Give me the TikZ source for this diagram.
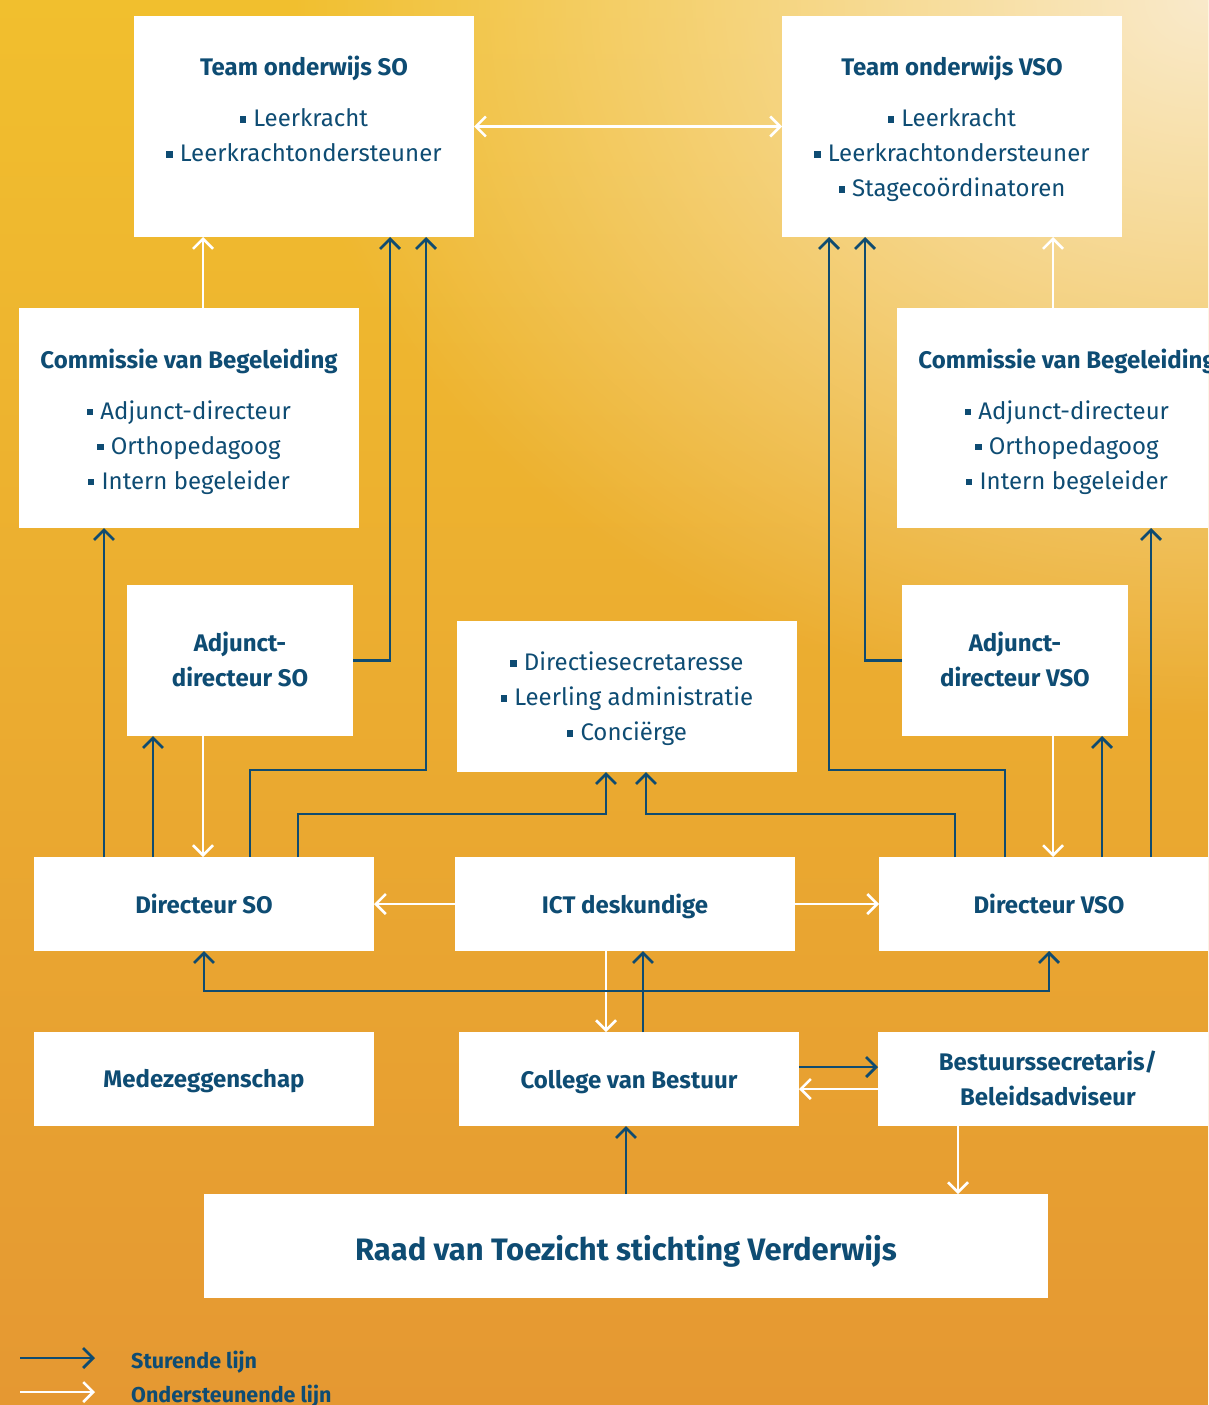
\documentclass[tikz,border=0pt]{standalone}
\usepackage{fontspec}
\setmainfont{Fira Sans}
\usetikzlibrary{arrows.meta,fadings}
\definecolor{tc}{HTML}{0E4C73}
\definecolor{lc}{HTML}{0F4B70}
\definecolor{bgA}{HTML}{F1BF2E}
\definecolor{bgB}{HTML}{E59832}
\definecolor{glow}{HTML}{FAEACB}
\tikzfading[name=glowfade, inner color=transparent!0, outer color=transparent!100]
\newcommand\sqb{\rule[0.17em]{0.26em}{0.26em}\hspace{0.3em}}
\newcommand\tp[1]{\rule{0pt}{#1pt}}
\newcommand\bt[1]{\rule[-#1pt]{0pt}{#1pt}}
\begin{document}
\begin{tikzpicture}[x=1pt,y=-1pt,
  >={Straight Barb[length=10pt,width=20pt]},
  box/.style={fill=white, draw=none, inner sep=0pt, outer sep=0pt, align=center, text=tc, font=\fontsize{24}{35}\selectfont},
  bbox/.style={box, font=\fontsize{24}{35}\selectfont\bfseries},
  hd/.style 2 args={execute at begin node={\rule{0pt}{#1pt}}, execute at end node={\rule[-#2pt]{0pt}{#2pt}}},
  dline/.style={draw=lc, line width=2.7pt, ->},
  wline/.style={draw=white, line width=2.5pt, ->},
  lgd/.style={anchor=base west, text=tc, inner sep=0pt, font=\fontsize{21.5}{25}\selectfont\bfseries}]
\useasboundingbox (0,0) rectangle (1208,1405);
\clip (0,0) rectangle (1208,1405);
% background
\shade[top color=bgA, bottom color=bgB] (0,0) rectangle (1208,1405);
\fill[glow, path fading=glowfade] (1208,0) ellipse (920 and 720);

% boxes
\node[box, minimum width=340pt, minimum height=221pt] (tso) at (304,126.5)
  {\tp{20}{\bfseries Team onderwijs SO}\\[16.7pt]\sqb Leerkracht\\ \sqb Leerkrachtondersteuner\bt{36.3}};
\node[box, minimum width=340pt, minimum height=221pt] (tvso) at (952,126.5)
  {\tp{29.2}{\bfseries Team onderwijs VSO}\\[16.7pt]\sqb Leerkracht\\ \sqb Leerkrachtondersteuner\\ \sqb Stagecoördinatoren\bt{10.5}};
\node[box, minimum width=340pt, minimum height=220pt] (cvbl) at (189,418)
  {\tp{32}{\bfseries Commissie van Begeleiding}\\[15.7pt]\sqb Adjunct-directeur\\ \sqb Orthopedagoog\\ \sqb Intern begeleider\bt{10.3}};
\node[box, minimum width=340pt, minimum height=220pt] (cvbr) at (1067,418)
  {\tp{32}{\bfseries Commissie van Begeleiding}\\[15.7pt]\sqb Adjunct-directeur\\ \sqb Orthopedagoog\\ \sqb Intern begeleider\bt{10.3}};
\node[bbox, minimum width=226pt, minimum height=151pt] (adjso) at (240,660.5) {\tp{26}Adjunct-\\directeur SO\bt{10}};
\node[bbox, minimum width=226pt, minimum height=151pt] (adjvso) at (1015,660.5) {\tp{26}Adjunct-\\directeur VSO\bt{10}};
\node[box, minimum width=340pt, minimum height=151pt] (mid) at (627,696.5)
  {\tp{28.4}\sqb Directiesecretaresse\\ \sqb Leerling administratie\\ \sqb Conciërge\bt{10}};
\node[bbox, hd={26}{8}, minimum width=340pt, minimum height=94pt] (dso) at (204,904) {Directeur SO};
\node[bbox, hd={26}{8}, minimum width=340pt, minimum height=94pt] (ict) at (625,904) {ICT deskundige};
\node[bbox, hd={26}{8}, minimum width=340pt, minimum height=94pt] (dvso) at (1049,904) {Directeur VSO};
\node[bbox, hd={26}{10}, minimum width=340pt, minimum height=94pt] (mz) at (204,1079) {Medezeggenschap};
\node[bbox, hd={27}{9}, minimum width=340pt, minimum height=94pt] (cvb) at (629,1079) {College van Bestuur};
\node[bbox, minimum width=340pt, minimum height=94pt] (bs) at (1048,1079) {\tp{27}Bestuurssecretaris/\\Beleidsadviseur\bt{10}};
\node[box, hd={38}{10}, minimum width=844pt, minimum height=104pt, font=\fontsize{31}{36}\selectfont\bfseries] (raad) at (626,1246)
  {Raad van Toezicht stichting Verderwijs};

% connectors
\draw[wline,<->] (tso.east) -- (tvso.west);
\coordinate (p2) at ([xshift=14pt]cvbl.north);
\draw[wline] (p2) -- (p2 |- tso.south);
\draw[dline] (adjso.east) -| ([xshift=86pt]tso.south);
\coordinate (p4) at ([xshift=46pt]dso.north);
\draw[dline] (p4) -- ++(0,-87) -| ([xshift=122pt]tso.south);
\coordinate (p5) at ([xshift=-100pt]dso.north);
\draw[dline] (p5) -- (p5 |- cvbl.south);
\coordinate (p6) at ([xshift=-51pt]dso.north);
\draw[dline] (p6) -- (p6 |- adjso.south);
\coordinate (p7) at ([xshift=-37pt]adjso.south);
\draw[wline] (p7) -- (p7 |- dso.north);
\coordinate (p8) at ([xshift=94pt]dso.north);
\draw[dline] (p8) -- ++(0,-43) -| ([xshift=-21pt]mid.south);
\coordinate (p9) at ([xshift=-94pt]dvso.north);
\draw[dline] (p9) -- ++(0,-43) -| ([xshift=19pt]mid.south);
\coordinate (p10) at ([xshift=-44pt]dvso.north);
\draw[dline] (p10) -- ++(0,-87) -| ([xshift=-123pt]tvso.south);
\draw[dline] (adjvso.west) -| ([xshift=-87pt]tvso.south);
\coordinate (p12) at ([xshift=-14pt]cvbr.north);
\draw[wline] (p12) -- (p12 |- tvso.south);
\coordinate (p13) at ([xshift=38pt]adjvso.south);
\draw[wline] (p13) -- (p13 |- dvso.north);
\coordinate (p14) at ([xshift=53pt]dvso.north);
\draw[dline] (p14) -- (p14 |- adjvso.south);
\coordinate (p15) at ([xshift=102pt]dvso.north);
\draw[dline] (p15) -- (p15 |- cvbr.south);
\draw[wline] (ict.west) -- (dso.east);
\draw[wline] (ict.east) -- (dvso.west);
\coordinate (p18) at ([xshift=-19pt]ict.south);
\draw[wline] (p18) -- (p18 |- cvb.north);
\coordinate (p19) at ([xshift=14pt]cvb.north);
\draw[dline] (p19) -- (p19 |- ict.south);
\draw[dline,<->] (dso.south) -- ++(0,40) -| (dvso.south);
\coordinate (p21) at ([yshift=12pt]cvb.east);
\draw[dline] (p21) -- (p21 -| bs.west);
\coordinate (p22) at ([yshift=-10pt]bs.west);
\draw[wline] (p22) -- (p22 -| cvb.east);
\coordinate (p23) at ([xshift=-90pt]bs.south);
\draw[wline] (p23) -- (p23 |- raad.north);
\draw[dline] (raad.north) -- (raad.north |- cvb.south);

% legend
\coordinate (l1s) at (20,1358); \coordinate (l1e) at (95,1358);
\coordinate (l2s) at (20,1392); \coordinate (l2e) at (95,1392);
\draw[dline] (l1s) -- (l1e);
\draw[wline] (l2s) -- (l2e);
\node[lgd] (lg1) at (131,1368) {Sturende lijn};
\node[lgd] (lg2) at (131,1402) {Ondersteunende lijn};
\end{tikzpicture}
\end{document}
